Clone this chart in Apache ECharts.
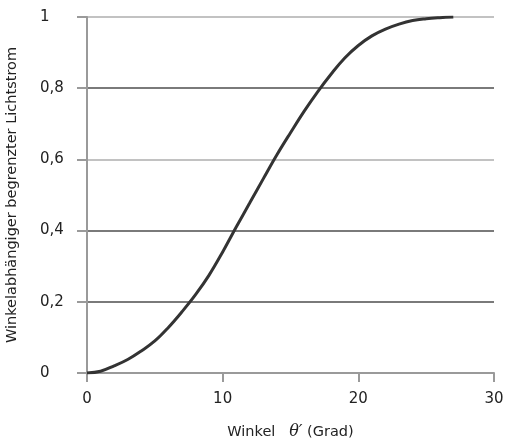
<!DOCTYPE html>
<html>
<head>
<meta charset="utf-8">
<script src="https://cdn.jsdelivr.net/npm/echarts@6/dist/echarts.min.js"></script>
<style>
  html, body { margin: 0; padding: 0; background: #fff; }
  #chart { width: 506px; height: 441px; }
</style>
</head>
<body>
<div id="chart"></div>
<script>
// Winkel in Grad
var winkel = [0, 1, 2, 3, 4, 5, 6, 7, 8, 9, 10, 11, 12, 13, 14, 15, 16, 17, 18, 19, 20, 21, 22, 23, 24, 25, 26, 27];
// Anteil Lichtstrom
var lichtstrom = [0, 0.005, 0.02, 0.038, 0.062, 0.09, 0.128, 0.172, 0.22, 0.275, 0.34, 0.41, 0.478, 0.546,
  0.613, 0.675, 0.735, 0.79, 0.84, 0.885, 0.92, 0.947, 0.966, 0.98, 0.99, 0.995, 0.998, 1.0];
var xTicks = [0, 10, 20, 30];
var yTicks = [0, 0.2, 0.4, 0.6, 0.8, 1];

var points = [];
for (var i = 0; i < winkel.length; i++) {
  points.push([winkel[i], lichtstrom[i]]);
}

var chart = echarts.init(document.getElementById('chart'));
var txtFont = '"DejaVu Sans", sans-serif';
chart.setOption({
  animation: false,
  grid: { left: 87, right: 12, top: 17, bottom: 68, outerBoundsMode: 'none' },
  xAxis: {
    type: 'value',
    min: xTicks[0],
    max: xTicks[xTicks.length - 1],
    interval: 10,
    name: '{n|Winkel   }{t|θ′}{n| (Grad)}',
    nameLocation: 'middle',
    nameGap: 51,
    nameTextStyle: {
      rich: {
        n: { fontSize: 14.5, color: '#222', fontFamily: txtFont },
        t: { fontSize: 16, color: '#222', fontStyle: 'italic', fontFamily: '"DejaVu Serif", serif' }
      }
    },
    axisLine: { lineStyle: { color: '#9a9a9a', width: 2 } },
    axisTick: { show: true, length: 9, lineStyle: { color: '#9a9a9a', width: 2 } },
    axisLabel: { margin: 19, fontSize: 15, color: '#222', fontFamily: txtFont },
    splitLine: { show: false }
  },
  yAxis: {
    type: 'value',
    min: yTicks[0],
    max: yTicks[yTicks.length - 1],
    interval: 0.2,
    name: 'Winkelabhängiger begrenzter Lichtstrom',
    nameLocation: 'middle',
    nameGap: 67,
    nameTextStyle: { fontSize: 14.5, color: '#222', fontFamily: txtFont },
    axisLine: { show: true, lineStyle: { color: '#9a9a9a', width: 2 } },
    axisTick: { show: true, length: 10, lineStyle: { color: '#9a9a9a', width: 2 } },
    axisLabel: {
      margin: 47,
      align: 'left',
      fontSize: 15,
      color: '#222',
      fontFamily: txtFont,
      formatter: function (v) { return String(Math.round(v * 10) / 10).replace('.', ','); }
    },
    splitLine: {
      show: true,
      lineStyle: { color: ['#9a9a9a', '#7a7a7a', '#7a7a7a', '#c2c2c2', '#7a7a7a', '#c2c2c2'], width: 2 }
    }
  },
  series: [{
    type: 'line',
    data: points,
    smooth: 0.4,
    showSymbol: false,
    lineStyle: { color: '#333', width: 3 }
  }]
});
</script>
</body>
</html>
